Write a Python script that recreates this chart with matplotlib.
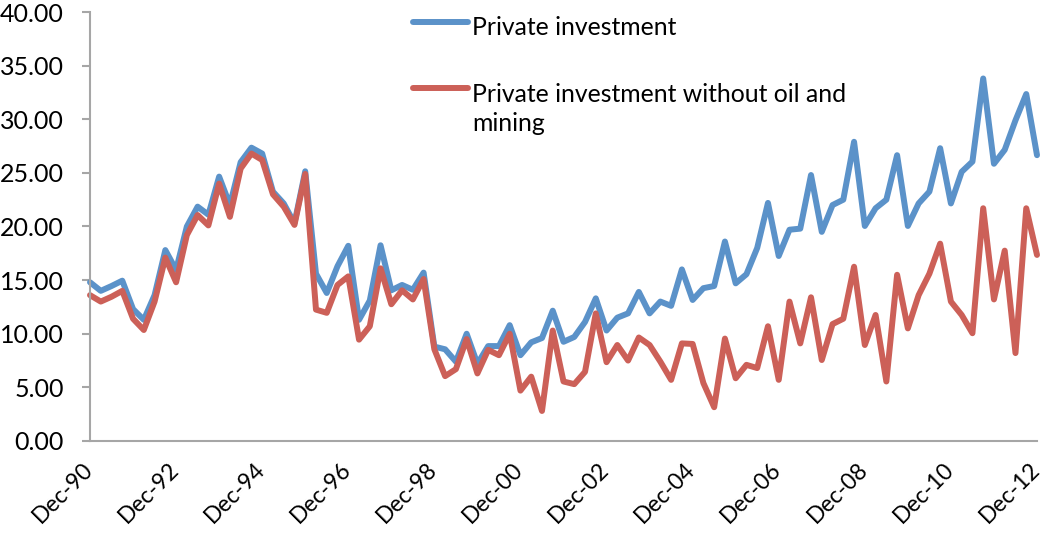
import matplotlib
matplotlib.use("Agg")
import matplotlib.pyplot as plt
from matplotlib.lines import Line2D
import matplotlib.transforms as mtransforms
import numpy as np

# Quarterly data, Dec-90 .. Dec-12 (89 quarters)
private_investment = [
    14.8, 14.0, 14.45, 14.95, 12.3, 11.3, 13.6, 17.8, 15.95, 20.0,
    21.85, 21.1, 24.65, 22.0, 26.0, 27.35, 26.8, 23.25, 22.15, 20.3,
    25.15, 15.6, 13.8, 16.3, 18.2, 11.3, 13.1, 18.25, 14.05, 14.55,
    14.1, 15.7, 8.8, 8.55, 7.4, 10.0, 7.2, 8.85, 8.85, 10.8,
    8.0, 9.2, 9.6, 12.15, 9.25, 9.7, 11.1, 13.3, 10.3, 11.5,
    11.9, 13.9, 11.9, 13.0, 12.6, 16.0, 13.15, 14.25, 14.45, 18.6,
    14.7, 15.55, 18.0, 22.2, 17.25, 19.7, 19.8, 24.8, 19.5, 22.0,
    22.5, 27.9, 20.05, 21.7, 22.5, 26.65, 20.05, 22.15, 23.25, 27.3,
    22.15, 25.1, 26.05, 33.8, 25.85, 27.15, 29.9, 32.35, 26.65,
]
private_investment_ex_mining = [
    13.6, 13.0, 13.45, 14.0, 11.4, 10.35, 13.0, 17.1, 14.8, 19.2,
    21.07, 20.1, 24.0, 20.9, 25.4, 26.8, 26.2, 23.0, 21.85, 20.15,
    24.9, 12.25, 11.95, 14.55, 15.35, 9.45, 10.7, 16.1, 12.75, 14.05,
    13.2, 15.1, 8.55, 6.05, 6.7, 9.5, 6.3, 8.5, 8.0, 10.0,
    4.7, 6.0, 2.8, 10.3, 5.55, 5.3, 6.45, 11.9, 7.35, 8.95,
    7.5, 9.65, 8.95, 7.4, 5.7, 9.1, 9.05, 5.4, 3.15, 9.55,
    5.85, 7.1, 6.8, 10.7, 5.7, 13.0, 9.1, 13.4, 7.55, 10.9,
    11.4, 16.25, 8.95, 11.75, 5.55, 15.5, 10.5, 13.6, 15.6, 18.4,
    13.0, 11.75, 10.05, 21.7, 13.2, 17.75, 8.2, 21.7, 17.35,
]
tick_labels = ["Dec-90", "Dec-92", "Dec-94", "Dec-96", "Dec-98", "Dec-00",
               "Dec-02", "Dec-04", "Dec-06", "Dec-08", "Dec-10", "Dec-12"]
series_names = ["Private investment",
                "Private investment without oil and\nmining"]

BLUE = "#5b92c9"
RED = "#cc6058"
AXIS = "#a6a6a6"

plt.rcParams['font.family'] = ['Lato', 'DejaVu Sans']

fig = plt.figure(figsize=(10.44, 5.33), dpi=100)
ax = fig.add_axes([90/1044, 1 - 441/533, (1037 - 90)/1044, (441 - 12)/533])

x = np.arange(len(private_investment))
ax.plot(x, private_investment, color=BLUE, lw=4.3, solid_joinstyle='round',
        solid_capstyle='round', clip_on=False)
ax.plot(x, private_investment_ex_mining, color=RED, lw=4.3,
        solid_joinstyle='round', solid_capstyle='round', clip_on=False)

ax.set_xlim(0, len(x) - 1)
ax.set_ylim(0, 40)
ax.set_yticks(np.arange(0, 40.1, 5))
ax.set_yticklabels([f"{v:.2f}" for v in np.arange(0, 40.1, 5)], fontsize=18)

xticks = np.arange(0, len(x), 8)
ax.set_xticks(xticks)
ax.set_xticklabels([])
label_trans = (mtransforms.blended_transform_factory(ax.transData, ax.transAxes)
               + mtransforms.ScaledTranslation(-8/100, -18/100,
                                               fig.dpi_scale_trans))
for xt, lab in zip(xticks, tick_labels):
    ax.text(xt, 0, lab, transform=label_trans, fontsize=16.5, rotation=45,
            ha='right', va='top', rotation_mode='anchor', clip_on=False)

for s in ['top', 'right']:
    ax.spines[s].set_visible(False)
for s in ['left', 'bottom']:
    ax.spines[s].set_color(AXIS)
    ax.spines[s].set_linewidth(1.5)
ax.tick_params(axis='y', length=6, width=1.5, color=AXIS, pad=13)
ax.tick_params(axis='x', length=0)

# Legend (drawn manually to match the reference layout)
W, H = 1044, 533
for (ypx, col, name, tpx) in [(21.7, BLUE, series_names[0], 28),
                              (88.3, RED, series_names[1], 95)]:
    fig.add_artist(Line2D([413/W, 468/W], [1 - ypx/H, 1 - ypx/H], color=col,
                          lw=4.3, solid_capstyle='round'))
    fig.text(472/W, 1 - (tpx - 12)/H, name, fontsize=17.8, ha='left', va='top',
             linespacing=1.3)

fig.savefig("out.png", dpi=100)
